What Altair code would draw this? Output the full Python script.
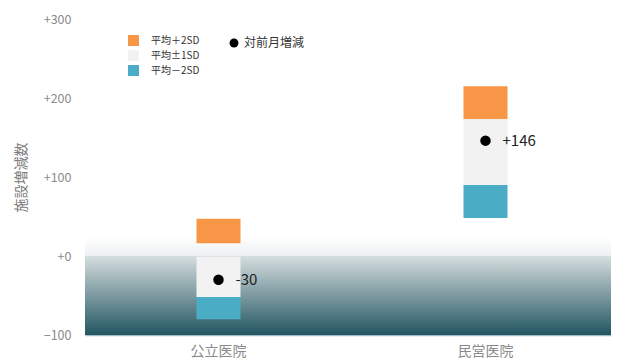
import altair as alt
import pandas as pd

# ---- data ----
categories = ["公立医院", "民営医院"]
segment_names = ["平均＋2SD", "平均±1SD", "平均－2SD"]
plus2sd_top = [47, 215]
plus2sd_bottom = [16, 173]
sd1_top = [-1, 173]
sd1_bottom = [-52, 90]
minus2sd_top = [-52, 90]
minus2sd_bottom = [-80, 48]
change = [-30, 146]
change_labels = ["-30", "+146"]
dot_series = ["対前月増減"]
y_ticks = [-100, 0, 100, 200, 300]

# ---- styles ----
segment_colors = ["#F79646", "#F2F2F2", "#4BACC6"]
FONT = "Noto Sans CJK JP"
FADE_TOP = 24
FLOOR = -100
PLOT_W, PLOT_H = 526, 316
BAND_RANGE = [0, 534]

rows = []
tops = [plus2sd_top, sd1_top, minus2sd_top]
bottoms = [plus2sd_bottom, sd1_bottom, minus2sd_bottom]
for si, name in enumerate(segment_names):
    for ci, cat in enumerate(categories):
        rows.append({"category": cat, "segment": name,
                     "top": tops[si][ci], "bottom": bottoms[si][ci]})
seg_df = pd.DataFrame(rows)
dot_df = pd.DataFrame({"category": categories, "change": change,
                       "label": change_labels, "series": dot_series * len(categories)})
one = pd.DataFrame({"k": [0]})

y_scale = alt.Scale(domain=[-100, 300], nice=False, zero=False)
x_scale = alt.Scale(domain=categories, range=BAND_RANGE)
x_enc = alt.X("category:N", sort=categories, title=None, scale=x_scale,
              axis=alt.Axis(labelAngle=0, ticks=False, domainColor="#9dbcc4",
                            domainWidth=1.5, labelColor="#8a8a8a", labelFontSize=14,
                            labelFont=FONT, labelPadding=9))

fade = alt.Chart(one).mark_rect(
    fill=alt.Gradient(gradient="linear",
                      stops=[alt.GradientStop(color="#ffffff", offset=0),
                             alt.GradientStop(color="#eceff1", offset=1)],
                      x1=0, x2=0, y1=0, y2=1)
).encode(x=alt.value(0), x2=alt.value(PLOT_W),
         y=alt.Y(datum=FADE_TOP, type="quantitative", scale=y_scale), y2=alt.Y2(datum=0))

dark = alt.Chart(one).mark_rect(
    fill=alt.Gradient(gradient="linear",
                      stops=[alt.GradientStop(color="#d6dedf", offset=0),
                             alt.GradientStop(color="#225561", offset=1)],
                      x1=0, x2=0, y1=0, y2=1)
).encode(x=alt.value(0), x2=alt.value(PLOT_W),
         y=alt.Y(datum=0, type="quantitative", scale=y_scale), y2=alt.Y2(datum=FLOOR))

bars = alt.Chart(seg_df).mark_bar(size=44).encode(
    x=x_enc,
    y=alt.Y("top:Q", scale=y_scale, title="施設増減数",
            axis=alt.Axis(values=y_ticks, grid=False, domain=False, ticks=False,
                          labelExpr="datum.value >= 0 ? '+' + datum.label : datum.label",
                          labelColor="#8a8a8a", labelFontSize=12.5, labelFont=FONT,
                          labelPadding=14, titleColor="#7a7a7a", titleFontSize=14,
                          titleFont=FONT, titleFontWeight="normal", titlePadding=15)),
    y2="bottom:Q",
    color=alt.Color("segment:N",
                    scale=alt.Scale(domain=segment_names, range=segment_colors),
                    legend=alt.Legend(title=None, orient="none", legendX=43, legendY=16,
                                      symbolType="square", symbolSize=121,
                                      symbolStrokeWidth=0, labelFontSize=10,
                                      labelFont=FONT, labelColor="#333333",
                                      labelOffset=12, rowPadding=4, padding=0)),
)

dots = alt.Chart(dot_df).mark_point(filled=True, size=110, opacity=1, color="black").encode(
    x=alt.X("category:N", sort=categories, scale=x_scale),
    y=alt.Y("change:Q", scale=y_scale),
    shape=alt.Shape("series:N", scale=alt.Scale(domain=dot_series, range=["circle"]),
                    legend=alt.Legend(title=None, orient="none", legendX=143, legendY=18,
                                      symbolSize=80, symbolFillColor="black",
                                      symbolStrokeWidth=0, labelFontSize=12,
                                      labelFont=FONT, labelColor="#333333",
                                      labelOffset=4, padding=0)),
)

labels = alt.Chart(dot_df).mark_text(align="left", dx=17, fontSize=15, font=FONT,
                                     color="#222222").encode(
    x=alt.X("category:N", sort=categories, scale=x_scale),
    y=alt.Y("change:Q", scale=y_scale),
    text="label:N",
)

chart = alt.layer(fade, dark, bars, dots, labels).properties(
    width=PLOT_W, height=PLOT_H,
    autosize=alt.AutoSizeParams(type="none"),
    padding={"left": 77, "top": 11, "right": 0, "bottom": 28},
).configure_view(stroke=None)

chart.save("out.html", embed_options={"renderer": "svg", "actions": False})
